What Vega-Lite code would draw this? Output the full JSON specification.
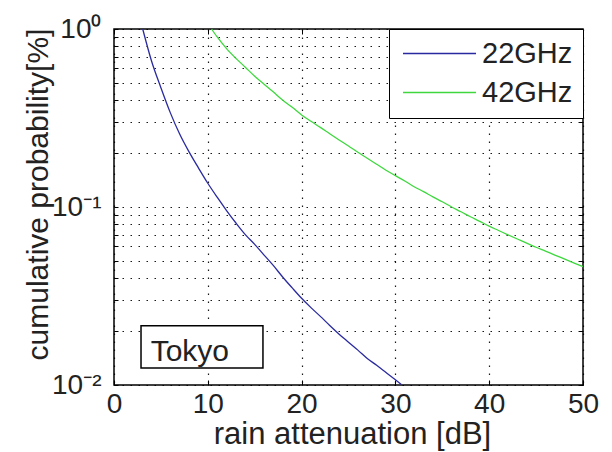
{
  "$schema": "https://vega.github.io/schema/vega-lite/v6.json",
  "width": 469,
  "height": 356,
  "autosize": {"type": "none"},
  "padding": {"left": 114, "top": 29, "right": 29, "bottom": 67},
  "background": "white",
  "config": {
    "view": {"stroke": "#000", "strokeWidth": 1.5},
    "font": "Liberation Sans"
  },
  "datasets": {
    "curves": [
      {"freq": "22GHz", "atten": 3.06, "prob": 1.0},
      {"freq": "22GHz", "atten": 4, "prob": 0.661},
      {"freq": "22GHz", "atten": 5, "prob": 0.468},
      {"freq": "22GHz", "atten": 6, "prob": 0.339},
      {"freq": "22GHz", "atten": 7, "prob": 0.257},
      {"freq": "22GHz", "atten": 8, "prob": 0.204},
      {"freq": "22GHz", "atten": 9, "prob": 0.166},
      {"freq": "22GHz", "atten": 10, "prob": 0.136},
      {"freq": "22GHz", "atten": 11, "prob": 0.1135},
      {"freq": "22GHz", "atten": 12, "prob": 0.0955},
      {"freq": "22GHz", "atten": 13, "prob": 0.0813},
      {"freq": "22GHz", "atten": 14, "prob": 0.07},
      {"freq": "22GHz", "atten": 15, "prob": 0.0617},
      {"freq": "22GHz", "atten": 16, "prob": 0.0537},
      {"freq": "22GHz", "atten": 17, "prob": 0.0468},
      {"freq": "22GHz", "atten": 18, "prob": 0.0403},
      {"freq": "22GHz", "atten": 19, "prob": 0.0351},
      {"freq": "22GHz", "atten": 20, "prob": 0.0307},
      {"freq": "22GHz", "atten": 21, "prob": 0.0272},
      {"freq": "22GHz", "atten": 22, "prob": 0.0243},
      {"freq": "22GHz", "atten": 23, "prob": 0.0216},
      {"freq": "22GHz", "atten": 24, "prob": 0.0193},
      {"freq": "22GHz", "atten": 25, "prob": 0.0174},
      {"freq": "22GHz", "atten": 26, "prob": 0.0157},
      {"freq": "22GHz", "atten": 27, "prob": 0.0141},
      {"freq": "22GHz", "atten": 28, "prob": 0.0129},
      {"freq": "22GHz", "atten": 29, "prob": 0.01175},
      {"freq": "22GHz", "atten": 30, "prob": 0.0107},
      {"freq": "22GHz", "atten": 30.7, "prob": 0.01},
      {"freq": "42GHz", "atten": 10.4, "prob": 1.0},
      {"freq": "42GHz", "atten": 11, "prob": 0.902},
      {"freq": "42GHz", "atten": 12, "prob": 0.776},
      {"freq": "42GHz", "atten": 13, "prob": 0.684},
      {"freq": "42GHz", "atten": 14, "prob": 0.61},
      {"freq": "42GHz", "atten": 15, "prob": 0.543},
      {"freq": "42GHz", "atten": 16, "prob": 0.49},
      {"freq": "42GHz", "atten": 17, "prob": 0.442},
      {"freq": "42GHz", "atten": 18, "prob": 0.398},
      {"freq": "42GHz", "atten": 19, "prob": 0.363},
      {"freq": "42GHz", "atten": 20, "prob": 0.329},
      {"freq": "42GHz", "atten": 21, "prob": 0.303},
      {"freq": "42GHz", "atten": 22, "prob": 0.28},
      {"freq": "42GHz", "atten": 23, "prob": 0.258},
      {"freq": "42GHz", "atten": 24, "prob": 0.238},
      {"freq": "42GHz", "atten": 25, "prob": 0.22},
      {"freq": "42GHz", "atten": 26, "prob": 0.203},
      {"freq": "42GHz", "atten": 27, "prob": 0.188},
      {"freq": "42GHz", "atten": 28, "prob": 0.174},
      {"freq": "42GHz", "atten": 29, "prob": 0.161},
      {"freq": "42GHz", "atten": 30, "prob": 0.15},
      {"freq": "42GHz", "atten": 31, "prob": 0.14},
      {"freq": "42GHz", "atten": 32, "prob": 0.13},
      {"freq": "42GHz", "atten": 33, "prob": 0.122},
      {"freq": "42GHz", "atten": 34, "prob": 0.114},
      {"freq": "42GHz", "atten": 35, "prob": 0.107},
      {"freq": "42GHz", "atten": 36, "prob": 0.1},
      {"freq": "42GHz", "atten": 37, "prob": 0.094},
      {"freq": "42GHz", "atten": 38, "prob": 0.0882},
      {"freq": "42GHz", "atten": 39, "prob": 0.083},
      {"freq": "42GHz", "atten": 40, "prob": 0.078},
      {"freq": "42GHz", "atten": 41, "prob": 0.0738},
      {"freq": "42GHz", "atten": 42, "prob": 0.0698},
      {"freq": "42GHz", "atten": 43, "prob": 0.0661},
      {"freq": "42GHz", "atten": 44, "prob": 0.0627},
      {"freq": "42GHz", "atten": 45, "prob": 0.0594},
      {"freq": "42GHz", "atten": 46, "prob": 0.0565},
      {"freq": "42GHz", "atten": 47, "prob": 0.0537},
      {"freq": "42GHz", "atten": 48, "prob": 0.0511},
      {"freq": "42GHz", "atten": 49, "prob": 0.0486},
      {"freq": "42GHz", "atten": 50, "prob": 0.0462}
    ],
    "note": [{"label": "Tokyo"}]
  },
  "layer": [
    {
      "data": {"name": "curves"},
      "mark": {"type": "line", "strokeWidth": 1.3, "interpolate": "monotone"},
      "encoding": {
        "x": {
          "field": "atten", "type": "quantitative",
          "scale": {"domain": [0, 50], "nice": false, "zero": false},
          "axis": {
            "orient": "bottom", "values": [0, 10, 20, 30, 40, 50],
            "title": "rain attenuation [dB]", "titleFontSize": 31, "titleFontWeight": "normal",
            "titleColor": "#222", "titleFont": "Liberation Sans",
            "titleAlign": "center", "titleBaseline": "alphabetic", "titleX": 238, "titleY": 58,
            "labelFontSize": 28, "labelColor": "#222", "labelFont": "Liberation Sans",
            "labelPadding": 10, "labelFlush": false, "labelOverlap": false,
            "domain": false, "tickSize": -5, "tickColor": "#000",
            "grid": true, "gridColor": "#000", "gridDash": [1.5, 6.5], "gridWidth": 1.2, "gridOpacity": 0.9
          }
        },
        "y": {
          "field": "prob", "type": "quantitative",
          "scale": {"type": "log", "domain": [0.01, 1], "nice": false},
          "axis": {
            "orient": "left",
            "values": [0.01, 0.02, 0.03, 0.04, 0.05, 0.06, 0.07, 0.08, 0.09, 0.1, 0.2, 0.3, 0.4, 0.5, 0.6, 0.7, 0.8, 0.9, 1],
            "labelExpr": "datum.value == 1 ? '10⁰' : (abs(datum.value - 0.1) < 1e-9 ? '10⁻¹' : (abs(datum.value - 0.01) < 1e-9 ? '10⁻²' : ''))",
            "title": "cumulative probability[%]", "titleFontSize": 30, "titleFontWeight": "normal",
            "titleColor": "#222", "titleFont": "Liberation Sans",
            "titleAngle": -90, "titleAlign": "center", "titleBaseline": "alphabetic", "titleX": -67, "titleY": 165,
            "labelFontSize": 28, "labelColor": "#222", "labelFont": "Liberation Sans",
            "labelPadding": 17, "labelFlush": false, "labelOverlap": false, "labelBaseline": "middle",
            "domain": false, "tickSize": -4, "tickColor": "#000",
            "grid": true, "gridColor": "#000", "gridDash": [1.5, 6.5], "gridWidth": 1.2, "gridOpacity": 0.9
          }
        },
        "color": {
          "field": "freq", "type": "nominal",
          "scale": {"domain": ["22GHz", "42GHz"], "range": ["#2a2aa0", "#3ed83e"]},
          "legend": {
            "title": null, "orient": "top-right", "offset": 0,
            "strokeColor": "#000", "fillColor": "white", "padding": 10,
            "symbolType": "M-3.65,0H3.65", "symbolSize": 400, "symbolStrokeWidth": 1.3, "symbolOffset": 26,
            "labelFontSize": 29, "labelOffset": 28, "rowPadding": 9,
            "labelExpr": "datum.label + '\u00a0'",
            "labelColor": "#222", "labelFont": "Liberation Sans"
          }
        }
      }
    },
    {
      "data": {"name": "note"},
      "layer": [
        {
          "mark": {"type": "rect", "fill": "white", "stroke": "#000", "strokeWidth": 1.5},
          "encoding": {
            "x": {"datum": 2.88, "type": "quantitative", "scale": {"domain": [0, 50], "nice": false, "zero": false},
              "axis": {"orient": "top", "values": [0, 10, 20, 30, 40, 50], "labels": false, "title": null, "domain": false, "grid": false, "tickSize": -5, "tickColor": "#000"}},
            "x2": {"datum": 15.88},
            "y": {"datum": 0.0215, "type": "quantitative", "scale": {"type": "log", "domain": [0.01, 1], "nice": false},
              "axis": {"orient": "right", "values": [0.01, 0.02, 0.03, 0.04, 0.05, 0.06, 0.07, 0.08, 0.09, 0.1, 0.2, 0.3, 0.4, 0.5, 0.6, 0.7, 0.8, 0.9, 1], "labels": false, "title": null, "domain": false, "grid": false, "tickSize": -4, "tickColor": "#000"}},
            "y2": {"datum": 0.01246}
          }
        },
        {
          "mark": {"type": "text", "align": "left", "baseline": "alphabetic", "fontSize": 30, "font": "Liberation Sans", "color": "#222"},
          "encoding": {
            "x": {"datum": 3.91, "type": "quantitative"},
            "y": {"datum": 0.01369, "type": "quantitative"},
            "text": {"field": "label", "type": "nominal"}
          }
        }
      ]
    }
  ],
  "resolve": {"axis": {"x": "independent", "y": "independent"}}
}
